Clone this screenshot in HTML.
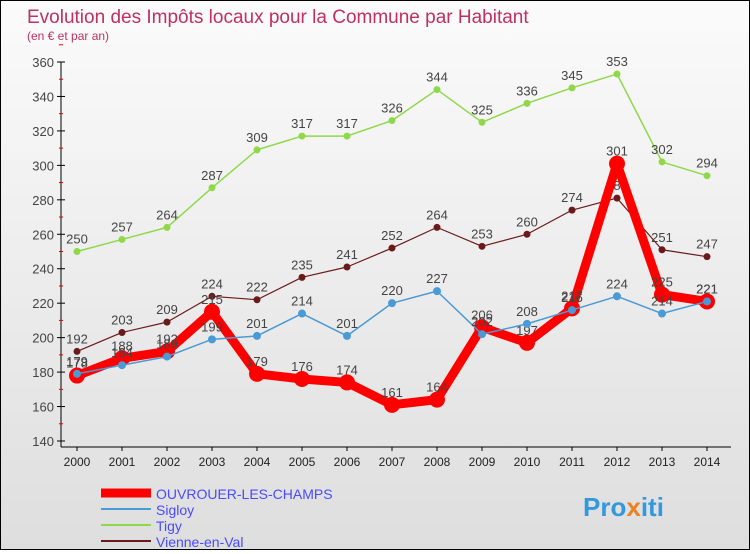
<!DOCTYPE html>
<html><head><meta charset="utf-8"><style>
body{margin:0;background:#fff;font-family:"Liberation Sans",sans-serif}
#c{width:750px;height:550px;position:relative;border:1px solid #000;box-sizing:border-box;background:linear-gradient(#fbfbfb,#dedede)}
</style></head><body>
<div id="c">
<svg id="s" width="748" height="548" xmlns="http://www.w3.org/2000/svg">
<text x="26" y="22" font-size="19" fill="#c03060">Evolution des Impôts locaux pour la Commune par Habitant</text>
<text x="26" y="39" font-size="12" fill="#c03060">(en € et par an)</text>
<g id="axes"></g><g id="series"></g>
<g>
<line x1="100" y1="492" x2="150" y2="492" stroke="#f00" stroke-width="9"/>
<text x="155" y="498" font-size="14" fill="#4a4aff">OUVROUER-LES-CHAMPS</text>
<line x1="100" y1="508" x2="150" y2="508" stroke="#4a9ad6" stroke-width="2"/>
<text x="155" y="514" font-size="14" fill="#4a4aff">Sigloy</text>
<line x1="100" y1="524" x2="150" y2="524" stroke="#8fd84a" stroke-width="2"/>
<text x="155" y="530" font-size="14" fill="#4a4aff">Tigy</text>
<line x1="100" y1="540" x2="150" y2="540" stroke="#6a1a1a" stroke-width="2"/>
<text x="155" y="546" font-size="14" fill="#4a4aff">Vienne-en-Val</text>
</g>
<text x="582" y="515" font-size="26" font-weight="bold" fill="#3399dd">Pro<tspan fill="#f08020">x</tspan>iti</text>
</svg></div>
<script>
const years=[2000,2001,2002,2003,2004,2005,2006,2007,2008,2009,2010,2011,2012,2013,2014];
const ouvrouer=[178,188,192,215,179,176,174,161,164,206,197,217,301,225,221];
const sigloy=[179,184,189,199,201,214,201,220,227,202,208,216,224,214,221];
const tigy=[250,257,264,287,309,317,317,326,344,325,336,345,353,302,294];
const vienne=[192,203,209,224,222,235,241,252,264,253,260,274,281,251,247];
const yTicks=[140,160,180,200,220,240,260,280,300,320,340,360];
const NS="http://www.w3.org/2000/svg";
const X=i=>76+i*45, Y=v=>440-(v-140)*(379/220);
function mk(t,a,p){const e=document.createElementNS(NS,t);for(const k in a)e.setAttribute(k,a[k]);p.appendChild(e);return e;}
const ax=document.getElementById('axes'),sr=document.getElementById('series');
const yl=mk('line',{x1:60,y1:61,x2:60,y2:446,stroke:'#000'},ax);


const xl=mk('line',{x1:60,y1:446,x2:730,y2:446,stroke:'#000'},ax);


yTicks.forEach(v=>{
 mk('line',{x1:56,y1:Y(v),x2:64,y2:Y(v),stroke:'#000'},ax);
 mk('line',{x1:58,y1:Y(v+10),x2:62,y2:Y(v+10),stroke:'#e00'},ax);
 const t=mk('text',{x:53,y:Y(v)+5,'text-anchor':'end','font-size':13,fill:'#444'},ax);t.textContent=v;
 
 
});
years.forEach((y,i)=>{
 mk('line',{x1:X(i),y1:446,x2:X(i),y2:450,stroke:'#000'},ax);
 const t=mk('text',{x:X(i),y:465,'text-anchor':'middle','font-size':12,fill:'#222'},ax);t.textContent=y;
 
 
});
function series(d,col,w,r,name){
 const g=mk('g',{},sr);
 
 
 mk('polyline',{points:d.map((v,i)=>X(i)+','+Y(v)).join(' '),fill:'none',stroke:col,'stroke-width':w,'stroke-linejoin':'round'},g);
 d.forEach((v,i)=>{
  const c=mk('circle',{cx:X(i),cy:Y(v),r:r,fill:col},g);
  
  
  const t=mk('text',{x:X(i),y:Y(v)-8,'text-anchor':'middle','font-size':13,fill:'#444'},g);t.textContent=v;
 });
}
series(tigy,'#8fd84a',1.5,3.5,'series-tigy');
series(vienne,'#6a1a1a',1.2,3.5,'series-vienne');
series(ouvrouer,'#f00',9,8,'series-ouvrouer');
series(sigloy,'#4a9ad6',1.5,4,'series-sigloy');
</script>
</body></html>
